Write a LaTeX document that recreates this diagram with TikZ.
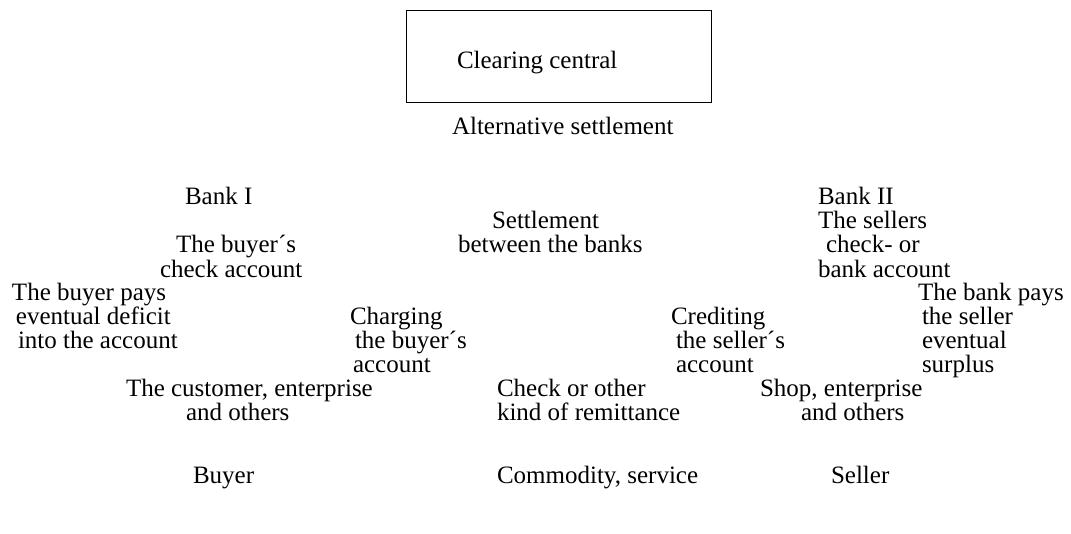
\documentclass[tikz,border=0pt]{standalone}
\usepackage{fontspec}
\setmainfont{Liberation Serif}
\begin{document}
\begin{tikzpicture}[x=1pt,y=-1pt,
  lbl/.style={anchor=base west,inner sep=0pt,outer sep=0pt,
    font=\fontsize{25}{28}\selectfont},
  framebox/.style={draw,line width=1pt,minimum width=305pt,minimum height=92pt,inner sep=0pt}]
\useasboundingbox (0,0) rectangle (1071,533);
% clearing house at the top
\node[framebox] (clearbox) at (559,56) {};
\node[lbl] (clear) at (457,68) {Clearing central};
\node[lbl] (alt) at (452,134) {Alternative settlement};
% bank I side
\node[lbl] (bankI) at (185,204) {Bank I};
\node[lbl] (buyacc1) at (176,252) {The buyer´s};
\node[lbl] (buyacc2) at (160,277) {check account};
\node[lbl] (pays1) at (12,300) {The buyer pays};
\node[lbl] (pays2) at (16,324) {eventual deficit};
\node[lbl] (pays3) at (18,348) {into the account};
\node[lbl] (charge1) at (350,324) {Charging};
\node[lbl] (charge2) at (355,348) {the buyer´s};
\node[lbl] (charge3) at (353,372) {account};
% settlement between banks
\node[lbl] (settle1) at (492,228) {Settlement};
\node[lbl] (settle2) at (458,252) {between the banks};
% bank II side
\node[lbl] (bankII) at (818,204) {Bank II};
\node[lbl] (sellacc1) at (818,228) {The sellers};
\node[lbl] (sellacc2) at (826,252) {check- or};
\node[lbl] (sellacc3) at (818,277) {bank account};
\node[lbl] (bpays1) at (918,300) {The bank pays};
\node[lbl] (bpays2) at (922,324) {the seller};
\node[lbl] (bpays3) at (922,348) {eventual};
\node[lbl] (bpays4) at (922,372) {surplus};
\node[lbl] (credit1) at (671,324) {Crediting};
\node[lbl] (credit2) at (676,348) {the seller´s};
\node[lbl] (credit3) at (676,372) {account};
% parties of the trade
\node[lbl] (cust1) at (126,396) {The customer, enterprise};
\node[lbl] (cust2) at (186,420) {and others};
\node[lbl] (check1) at (497,396) {Check or other};
\node[lbl] (check2) at (497,420) {kind of remittance};
\node[lbl] (shop1) at (760,396) {Shop, enterprise};
\node[lbl] (shop2) at (801,420) {and others};
\node[lbl] (buyer) at (193,483) {Buyer};
\node[lbl] (goods) at (497,483) {Commodity, service};
\node[lbl] (seller) at (831,483) {Seller};
\end{tikzpicture}
\end{document}
